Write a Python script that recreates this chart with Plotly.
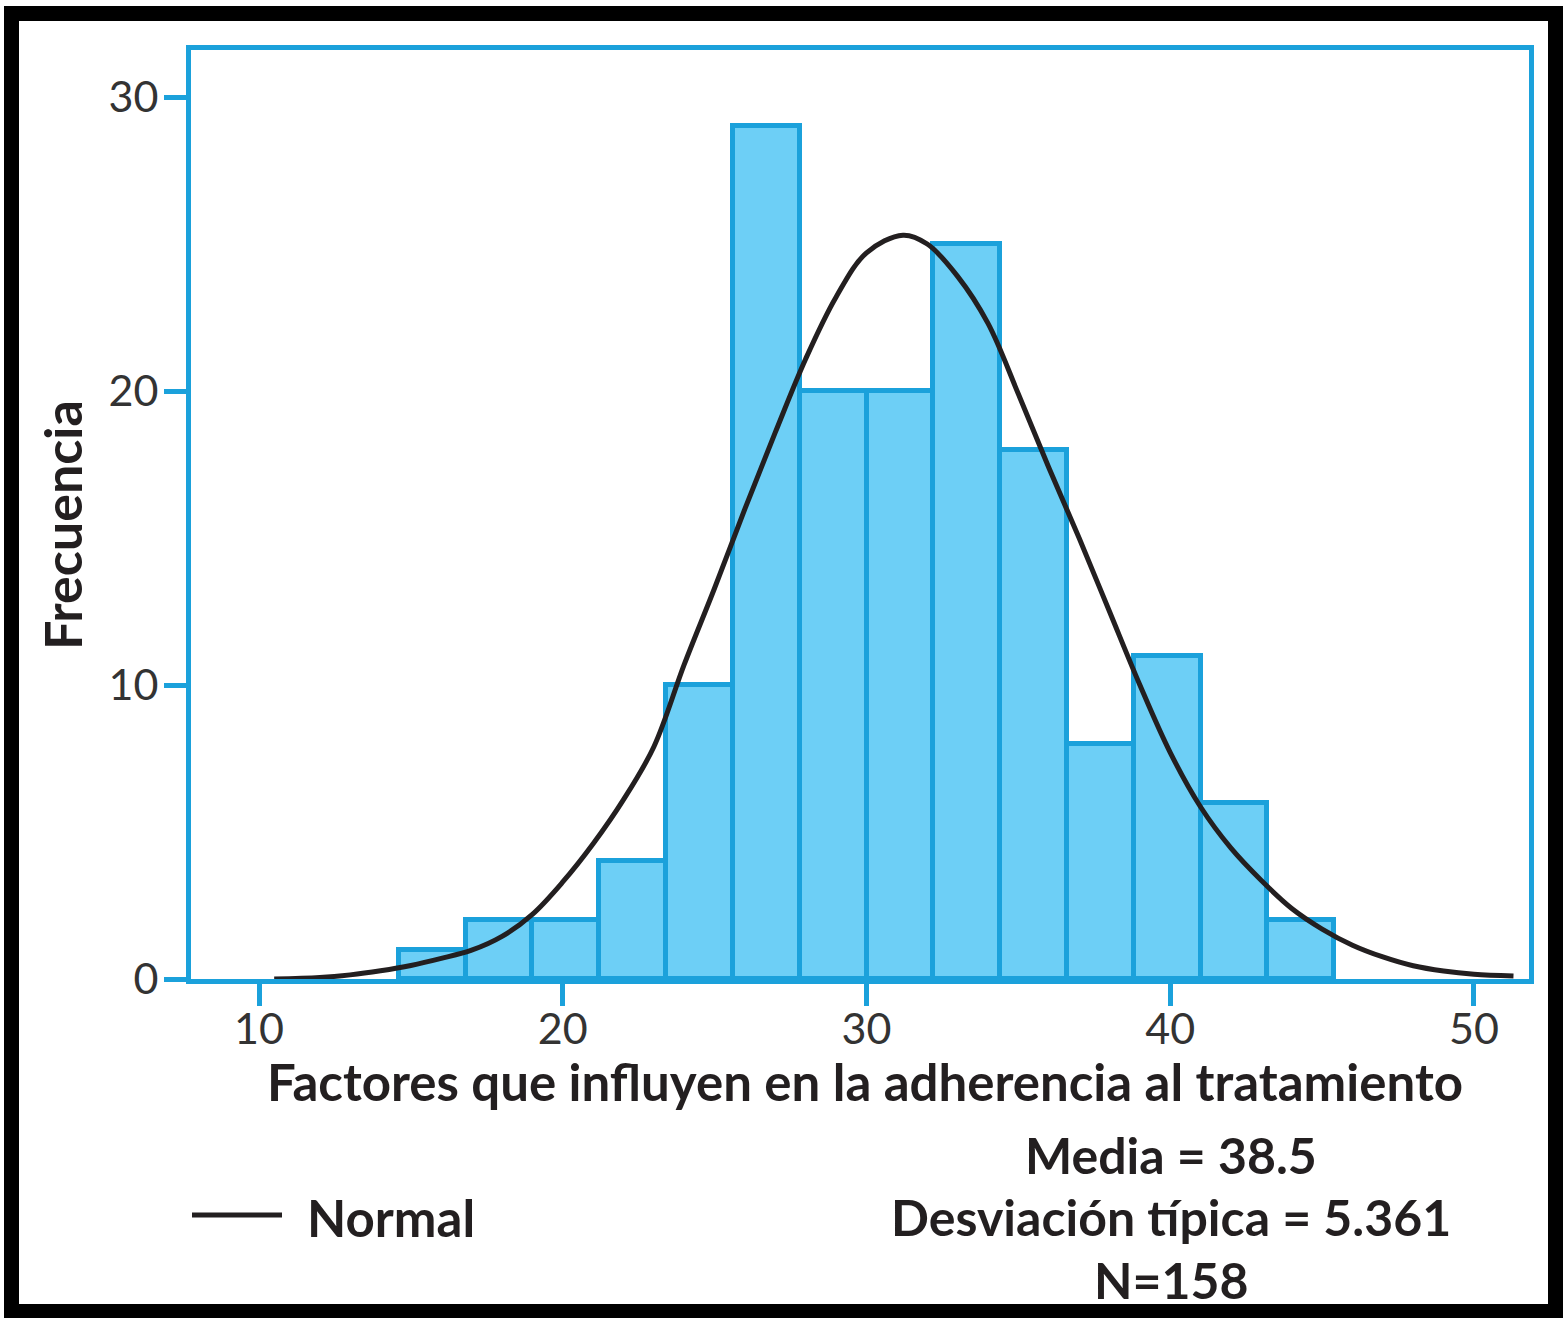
import plotly.graph_objects as go

############ Data ##############
# histogram bins (score values) and counts
bin_edges = [14.6, 16.8, 19.0, 21.2, 23.4, 25.6, 27.8, 30.0, 32.2, 34.4, 36.6, 38.8, 41.0, 43.2, 45.4]
counts = [1, 2, 2, 4, 10, 29, 20, 20, 25, 18, 8, 11, 6, 2]

# fitted normal curve
curve_x = [10.5, 12, 13, 14, 15, 16, 17, 18, 19, 20, 21, 22, 23, 24, 25, 26, 27, 28, 29, 30,
           31.2, 32, 33, 34, 35, 36, 37, 38, 39, 40, 41, 42, 43, 44, 45, 46, 47, 48, 49, 50, 51.3]
curve_y = [0.0, 0.05, 0.14, 0.28, 0.46, 0.7, 0.98, 1.45, 2.2, 3.3, 4.6, 6.1, 7.9, 10.7, 13.3,
           16.0, 18.6, 21.1, 23.2, 24.7, 25.3, 25.0, 23.9, 22.3, 19.9, 17.4, 15.0, 12.5, 10.0,
           7.7, 5.85, 4.45, 3.35, 2.4, 1.7, 1.15, 0.75, 0.45, 0.27, 0.16, 0.1]

x_ticks = [10, 20, 30, 40, 50]
y_ticks = [0, 10, 20, 30]

x_title = "Factores que influyen en la adherencia al tratamiento"
y_title = "Frecuencia"
legend_label = "Normal"
stats_lines = ["Media = 38.5", "Desviación típica = 5.361", "N=158"]

####### Styling ######
BLUE = "#1BA1DB"
FILL = "#6DCFF6"
INK = "#231F20"
FONT = "Lato"

W, H = 1563, 1318
L, R, T, B = 191, 34, 50, 339
pw = W - L - R
ph = H - T - B


def px(x):
    # pixel -> paper x
    return (x - L) / pw


def py(y):
    # pixel (from top) -> paper y
    return (H - B - y) / ph


centers = [(a + b) / 2 for a, b in zip(bin_edges[:-1], bin_edges[1:])]
widths = [b - a for a, b in zip(bin_edges[:-1], bin_edges[1:])]

fig = go.Figure()

# Histogram bars
fig.add_trace(
    go.Bar(
        x=centers,
        y=counts,
        width=widths,
        marker=dict(color=FILL, line=dict(color=BLUE, width=5)),
        showlegend=False,
    )
)

# Normal curve
fig.add_trace(
    go.Scatter(
        x=curve_x,
        y=curve_y,
        mode="lines",
        line=dict(color=INK, width=5, shape="spline", smoothing=1.0),
        showlegend=False,
    )
)

axis_common = dict(
    showline=True,
    linecolor=BLUE,
    linewidth=5,
    mirror=True,
    ticks="outside",
    ticklen=22,
    tickwidth=5,
    tickcolor=BLUE,
    showgrid=False,
    zeroline=False,
    tickfont=dict(family=FONT, size=43, color="#333333"),
)

fig.update_xaxes(range=[7.761, 51.811], tickvals=x_ticks, ticklabelstandoff=-14, **axis_common)
fig.update_yaxes(range=[0, 31.6], tickvals=y_ticks, ticklabelstandoff=-3, **axis_common)


def bold(size):
    return dict(family=FONT, size=size, color=INK, weight="bold")


annotations = [
    dict(x=px(865), y=py(1081), text=x_title, xanchor="center", yanchor="middle", font=bold(51)),
    dict(x=px(62), y=py(525), text=y_title, textangle=-90, xanchor="center", yanchor="middle",
         font=bold(52)),
    dict(x=px(305), y=py(1217), text=legend_label, xanchor="left", yanchor="middle", font=bold(51)),
]
for txt, yy in zip(stats_lines, [1155, 1217, 1280]):
    annotations.append(dict(x=px(1171), y=py(yy), text=txt, xanchor="center", yanchor="middle",
                            font=bold(50)))

for a in annotations:
    a.update(xref="paper", yref="paper", showarrow=False)

shapes = [
    # legend line sample
    dict(type="line", xref="paper", yref="paper", x0=px(192), x1=px(282), y0=py(1215), y1=py(1215),
         line=dict(color=INK, width=5)),
    # outer black frame
    dict(type="rect", xref="paper", yref="paper", x0=px(11.5), x1=px(1555.5), y0=py(13.5), y1=py(1311.5),
         line=dict(color="black", width=15)),
]

fig.update_layout(
    width=W,
    height=H,
    margin=dict(l=L, r=R, t=T, b=B),
    paper_bgcolor="white",
    plot_bgcolor="white",
    bargap=0,
    annotations=annotations,
    shapes=shapes,
)

# drop the default page margin so the figure sits at the window corner
fig.write_html(
    "out.html",
    config={"displayModeBar": False},
    post_script="document.body.style.margin='0px';",
)
